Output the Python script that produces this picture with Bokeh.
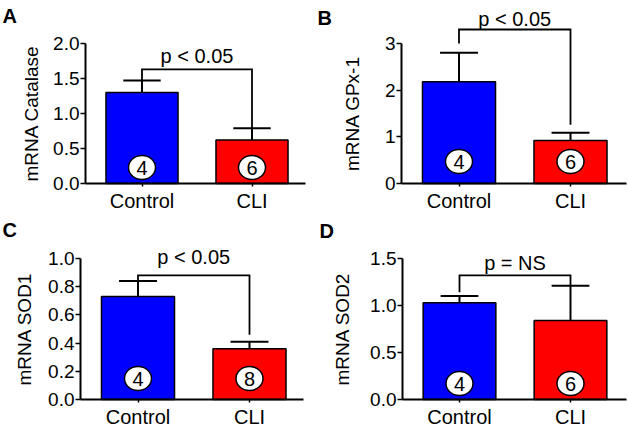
from bokeh.plotting import figure
from bokeh.models import Range1d, FixedTicker, NumeralTickFormatter
from bokeh.layouts import gridplot
from bokeh.embed import file_html
from bokeh.resources import INLINE
from bokeh.core.properties import value

FONT = "Liberation Sans"

# ---------------- data ----------------
categories = ["Control", "CLI"]
group_x = [1, 2]
bar_colors = ["#0000FF", "#FF0000"]

catalase_mean = [1.30, 0.62]
catalase_err = [0.17, 0.17]
catalase_n = ["4", "6"]

gpx1_mean = [2.18, 0.92]
gpx1_err = [0.62, 0.17]
gpx1_n = ["4", "6"]

sod1_mean = [0.73, 0.36]
sod1_err = [0.11, 0.05]
sod1_n = ["4", "8"]

sod2_mean = [1.03, 0.84]
sod2_err = [0.07, 0.37]
sod2_n = ["4", "6"]

p_labels = ["p < 0.05", "p < 0.05", "p < 0.05", "p = NS"]
# bracket level and leg ends (left, right)
bracket_y = [1.63, 3.30, 0.88, 1.32]
bracket_legs = [[1.47, 0.79], [3.0, 1.26], [0.84, 0.46], [1.14, 1.21]]

ticks_catalase = [0, 0.5, 1.0, 1.5, 2.0]
ticks_gpx1 = [0, 1, 2, 3]
ticks_sod1 = [0, 0.2, 0.4, 0.6, 0.8, 1.0]
ticks_sod2 = [0, 0.5, 1.0, 1.5]


def make_panel(letter, ylabel, mean, err, n, ticks, fmt, plabel, by, legs, geom, style):
    # geom: figure size and pixel layout of the axes inside the figure
    W, H = geom["size"]
    yax_px, xax_py, xend_px = geom["yaxis_px"], geom["xaxis_py"], geom["xend_px"]
    x1_px, ppu_x, ppu_y = geom["x1_px"], geom["ppu_x"], geom["ppu_y"]

    def dx(px):
        return 1 + (px - x1_px) / ppu_x

    def dy(py):
        return (xax_py - py) / ppu_y

    p = figure(width=W, height=H, x_range=Range1d(dx(0), dx(W)), y_range=Range1d(dy(H), dy(0)),
               output_backend="svg", toolbar_location=None,
               min_border_left=0, min_border_right=0, min_border_top=0, min_border_bottom=0)
    p.outline_line_color = None
    p.xgrid.visible = False
    p.ygrid.visible = False
    p.background_fill_color = "white"
    p.border_fill_color = "white"

    # bars
    p.vbar(x=group_x, top=mean, width=0.655, fill_color=bar_colors,
           line_color="black", line_width=1.5)
    # error bars (upper only)
    tops = [m + e for m, e in zip(mean, err)]
    p.segment(x0=group_x, y0=mean, x1=group_x, y1=tops, line_color="black", line_width=2)
    p.segment(x0=[x - 0.17 for x in group_x], y0=tops, x1=[x + 0.17 for x in group_x], y1=tops,
              line_color="black", line_width=2)
    # bracket
    p.line(x=[group_x[0], group_x[0], group_x[1], group_x[1]], y=[legs[0], by, by, legs[1]],
           line_color="black", line_width=1.8, line_join="miter")
    p.text(x=[sum(group_x) / 2], y=[by + style["text_px"] / ppu_y], text=[plabel],
           text_align="center", text_baseline="middle", text_font=value(FONT),
           text_font_size="20px", text_color="black")
    # n circles
    cy = style["circle_px"] / ppu_y
    p.ellipse(x=group_x, y=[cy] * 2, width=27, height=24, width_units="screen",
              height_units="screen", fill_color="white", line_color="black", line_width=1.5)
    p.text(x=group_x, y=[cy] * 2, text=n, text_align="center", text_baseline="middle",
           text_font=value(FONT), text_font_size="20px", text_color="black")
    # panel letter
    lx, ly = style["letter_px"]
    p.text(x=[dx(lx)], y=[dy(ly)], text=[letter], text_align="left", text_baseline="middle",
           text_font=value(FONT), text_font_style="bold", text_font_size="20px",
           text_color="black")

    # x axis (fixed at y = 0)
    xa = p.xaxis[0]
    xa.fixed_location = 0
    xa.bounds = (dx(yax_px), dx(xend_px))
    xa.ticker = FixedTicker(ticks=group_x)
    xa.major_label_overrides = {group_x[0]: categories[0], group_x[1]: categories[1]}
    xa.major_tick_out = 3
    xa.major_tick_in = 0
    xa.minor_tick_line_color = None
    xa.axis_line_width = 2
    xa.major_tick_line_width = 1.5
    xa.major_label_standoff = 3
    xa.major_label_text_font = FONT
    xa.major_label_text_font_size = "20px"
    xa.major_label_text_color = "black"

    # y axis (fixed at the left edge of the plotting area)
    ya = p.yaxis[0]
    ya.fixed_location = dx(yax_px)
    ya.ticker = FixedTicker(ticks=ticks)
    ya.formatter = NumeralTickFormatter(format=fmt)
    ya.bounds = (0, ticks[-1])
    ya.major_tick_out = 5
    ya.major_tick_in = 0
    ya.minor_tick_line_color = None
    ya.axis_line_width = 2
    ya.major_tick_line_width = 1.5
    ya.major_label_standoff = 1
    ya.major_label_text_font = FONT
    ya.major_label_text_font_size = "19px"
    ya.major_label_text_color = "black"
    ya.axis_label = ylabel
    ya.axis_label_text_font = FONT
    ya.axis_label_text_font_size = "19px"
    ya.axis_label_text_font_style = "normal"
    ya.axis_label_text_color = "black"
    ya.axis_label_standoff = style["label_standoff"]
    return p


pA = make_panel("A", "mRNA Catalase", catalase_mean, catalase_err, catalase_n, ticks_catalase, "0.0",
                p_labels[0], bracket_y[0], bracket_legs[0],
                dict(size=(314, 215), yaxis_px=85, xaxis_py=183, xend_px=305, x1_px=141.5,
                     ppu_x=110, ppu_y=70),
                dict(circle_px=16, text_px=13.5, label_standoff=8, letter_px=(2, 15)))
pB = make_panel("B", "mRNA GPx-1", gpx1_mean, gpx1_err, gpx1_n, ticks_gpx1, "0",
                p_labels[1], bracket_y[1], bracket_legs[1],
                dict(size=(314, 215), yaxis_px=87, xaxis_py=183, xend_px=312, x1_px=144.5,
                     ppu_x=111.5, ppu_y=46.67),
                dict(circle_px=22, text_px=10.5, label_standoff=19, letter_px=(3, 17.5)))
pC = make_panel("C", "mRNA SOD1", sod1_mean, sod1_err, sod1_n, ticks_sod1, "0.0",
                p_labels[2], bracket_y[2], bracket_legs[2],
                dict(size=(314, 216), yaxis_px=80, xaxis_py=184, xend_px=303, x1_px=137.5,
                     ppu_x=111.5, ppu_y=141),
                dict(circle_px=21, text_px=18.5, label_standoff=10, letter_px=(2, 14.5)))
pD = make_panel("D", "mRNA SOD2", sod2_mean, sod2_err, sod2_n, ticks_sod2, "0.0",
                p_labels[3], bracket_y[3], bracket_legs[3],
                dict(size=(314, 216), yaxis_px=88, xaxis_py=184, xend_px=312, x1_px=145,
                     ppu_x=111, ppu_y=94),
                dict(circle_px=16, text_px=12.5, label_standoff=14, letter_px=(5, 15.5)))

grid = gridplot([[pA, pB], [pC, pD]], toolbar_location=None)
open("out.html", "w").write(file_html(grid, INLINE))
